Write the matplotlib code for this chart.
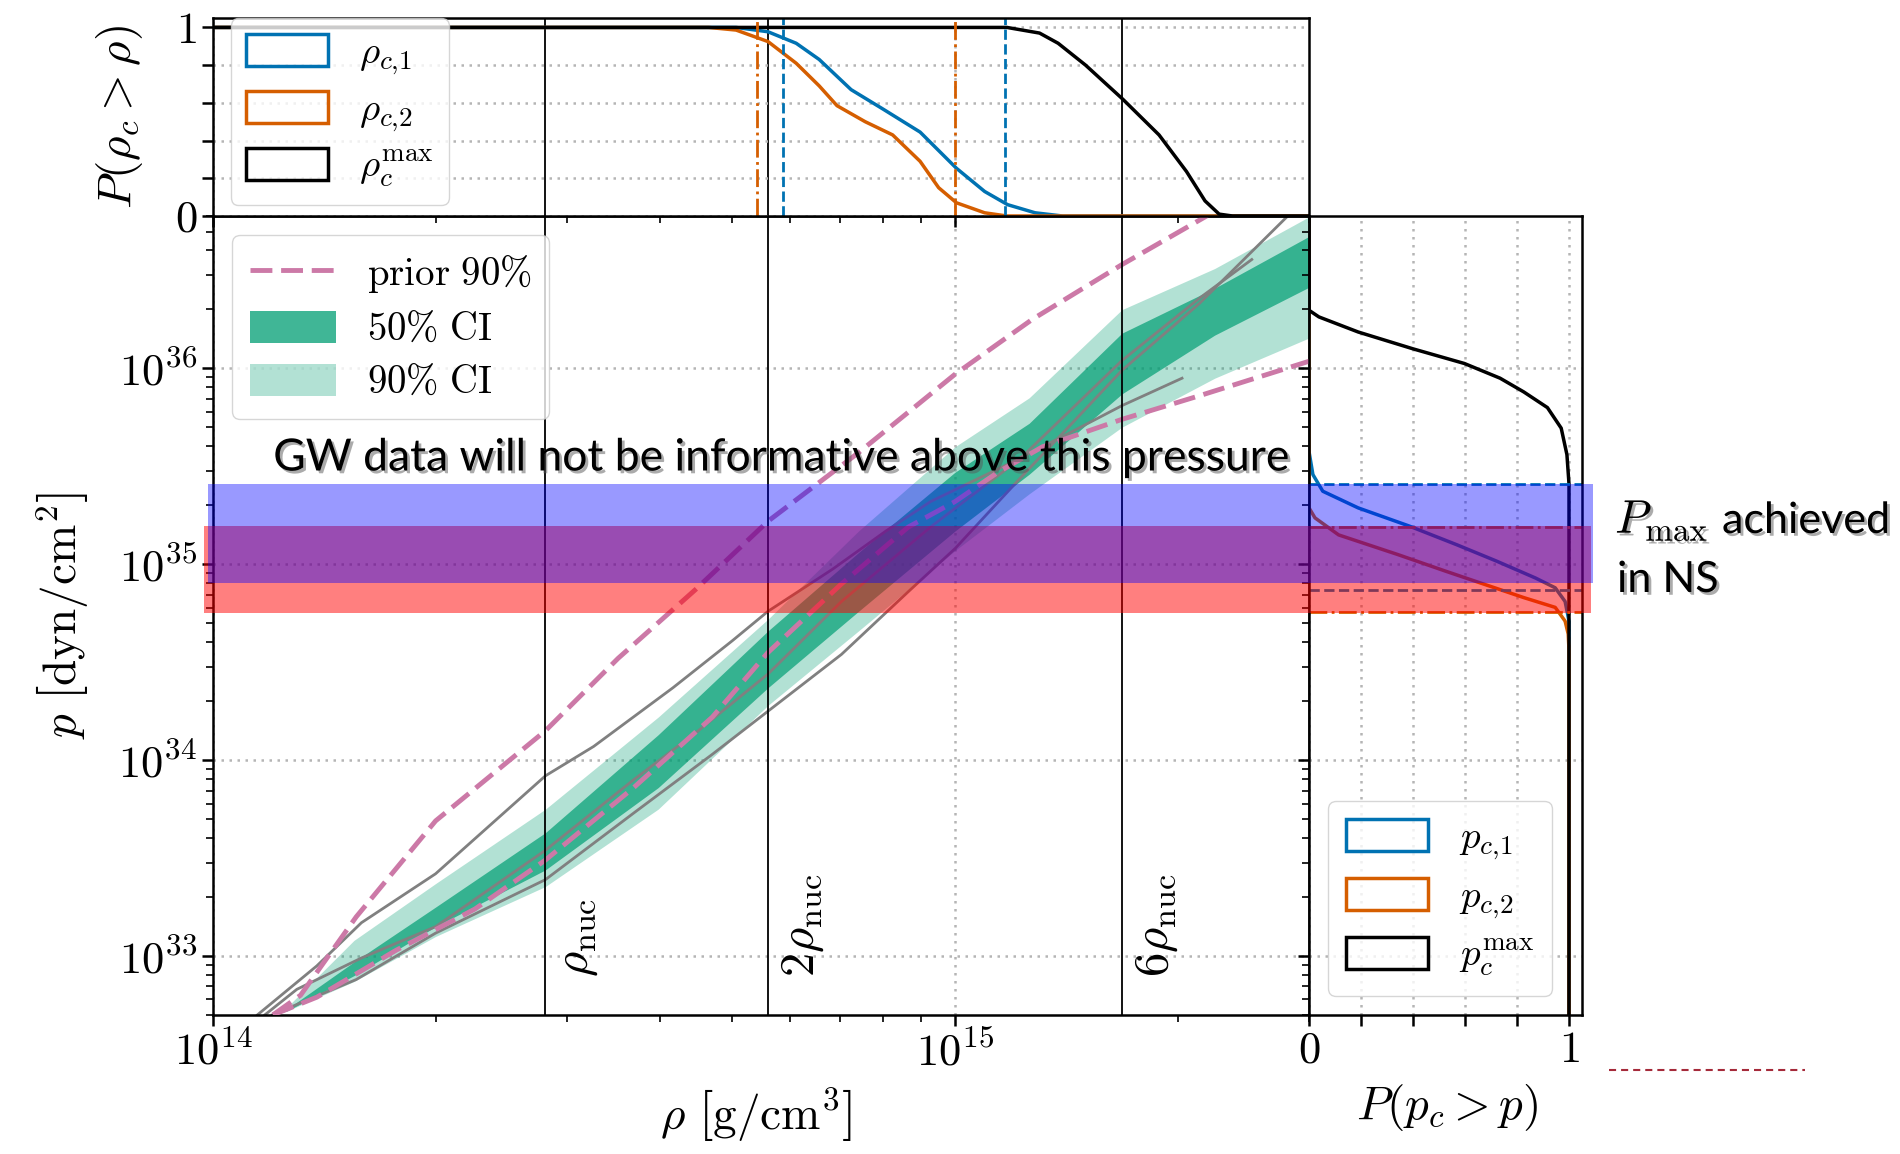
import numpy as np
import matplotlib
matplotlib.use("Agg")
import matplotlib.pyplot as plt
from matplotlib.patches import Patch, Rectangle
from matplotlib.lines import Line2D
from matplotlib import transforms
import matplotlib.patheffects as pe

plt.rcParams['font.family'] = 'serif'
plt.rcParams['font.serif'] = ['cmr10']
plt.rcParams['mathtext.fontset'] = 'cm'
plt.rcParams['axes.formatter.use_mathtext'] = True
plt.rcParams['axes.unicode_minus'] = False

BLUE = '#0072B2'
ORANGE = '#D55E00'
GREEN = '#009E73'
PINK = '#CC79A7'

# ---- data (log10 values) ----
rho_nuc = 2.8e14
ref_lines = [rho_nuc, 2 * rho_nuc, 6 * rho_nuc]
ref_labels = [r'$\rho_{\rm nuc}$', r'$2\rho_{\rm nuc}$', r'$6\rho_{\rm nuc}$']

# posterior credible bands, log10(rho) vs log10(p)
band_logrho = [14.08, 14.10, 14.19, 14.30, 14.448, 14.60, 14.748, 14.87, 15.0, 15.1, 15.225, 15.35, 15.48]
ci90_hi = [32.70, 32.74, 33.08, 33.37, 33.75, 34.22, 34.72, 35.17, 35.60, 35.85, 36.30, 36.51, 36.78]
ci50_hi = [32.70, 32.73, 32.97, 33.25, 33.63, 34.13, 34.66, 35.06, 35.47, 35.72, 36.18, 36.41, 36.68]
ci50_lo = [32.70, 32.72, 32.90, 33.15, 33.44, 33.86, 34.37, 34.76, 35.17, 35.46, 35.87, 36.17, 36.42]
ci90_lo = [32.70, 32.72, 32.87, 33.10, 33.355, 33.75, 34.28, 34.66, 35.07, 35.36, 35.70, 35.95, 36.16]

# prior 90% bounds
prior_hi_x = [14.081, 14.118, 14.193, 14.30, 14.448, 14.546, 14.65, 14.748, 14.87, 15.0, 15.104, 15.225, 15.34]
prior_hi_y = [32.70, 32.80, 33.20, 33.69, 34.15, 34.52, 34.87, 35.22, 35.57, 35.97, 36.25, 36.53, 36.78]
prior_lo_x = [14.081, 14.14, 14.247, 14.353, 14.448, 14.567, 14.673, 14.748, 14.847, 14.937, 15.0, 15.058,
              15.118, 15.225, 15.329, 15.48]
prior_lo_y = [32.70, 32.79, 33.03, 33.24, 33.49, 33.86, 34.22, 34.55, 34.90, 35.19, 35.32, 35.47,
              35.60, 35.74, 35.86, 36.04]

# individual EOS draws (gray)
eos_a_x = [14.06, 14.14, 14.20, 14.30, 14.448, 14.513, 14.62, 14.70, 14.748, 14.835, 14.907, 14.967,
           15.06, 15.149, 15.225, 15.306]
eos_a_y = [32.70, 32.95, 33.17, 33.42, 33.92, 34.07, 34.37, 34.61, 34.76, 34.975, 35.17, 35.32,
           35.49, 35.66, 35.81, 35.95]
eos_b_x = [14.07, 14.113, 14.20, 14.30, 14.448, 14.567, 14.654, 14.748, 14.847, 14.967, 15.088, 15.225,
           15.33, 15.40]
eos_b_y = [32.70, 32.83, 32.99, 33.15, 33.54, 33.90, 34.15, 34.44, 34.81, 35.19, 35.54, 36.04,
           36.36, 36.556]
eos_c_x = [14.08, 14.193, 14.30, 14.448, 14.567, 14.673, 14.748, 14.847, 14.937, 15.0, 15.088, 15.225,
           15.329, 15.449]
eos_c_y = [32.70, 32.88, 33.117, 33.39, 33.73, 34.03, 34.25, 34.54, 34.86, 35.08, 35.44, 35.99,
           36.33, 36.78]

# central density survival functions P(rho_c > rho)
rc1_x = [14.0, 14.705, 14.748, 14.786, 14.817, 14.86, 14.903, 14.953, 15.002, 15.04, 15.071, 15.108, 15.145, 15.48]
rc1_P = [1.0, 1.0, 0.977, 0.916, 0.83, 0.67, 0.567, 0.445, 0.253, 0.13, 0.06, 0.017, 0.0, 0.0]
rc2_x = [14.0, 14.668, 14.705, 14.748, 14.786, 14.817, 14.841, 14.879, 14.916, 14.953, 14.978, 15.002,
         15.04, 15.07, 15.48]
rc2_P = [1.0, 1.0, 0.986, 0.925, 0.81, 0.69, 0.585, 0.50, 0.43, 0.29, 0.15, 0.07, 0.017, 0.0, 0.0]
rcmax_x = [14.0, 15.07, 15.114, 15.139, 15.176, 15.226, 15.275, 15.312, 15.337, 15.356, 15.374, 15.48]
rcmax_P = [1.0, 1.0, 0.97, 0.916, 0.80, 0.62, 0.43, 0.236, 0.08, 0.01, 0.0, 0.0]
rc1_bounds = [14.768, 15.068]
rc2_bounds = [14.733, 15.0]

# central pressure survival functions P(p_c > p)
pc1_P = [0, 0, 0.015, 0.053, 0.189, 0.386, 0.568, 0.72, 0.871, 0.947, 0.985, 1.0, 1.0]
pc1_y = [36.78, 35.576, 35.458, 35.373, 35.288, 35.195, 35.10, 35.017, 34.93, 34.88, 34.81, 34.71, 32.69]
pc2_P = [0, 0, 0.023, 0.114, 0.341, 0.523, 0.674, 0.826, 0.947, 0.985, 0.997, 1.0, 1.0]
pc2_y = [36.78, 35.288, 35.237, 35.15, 35.05, 34.966, 34.898, 34.83, 34.78, 34.71, 34.644, 34.56, 32.69]
pcmax_P = [0, 0, 0.038, 0.189, 0.40, 0.598, 0.735, 0.826, 0.917, 0.97, 0.992, 1.0, 1.0]
pcmax_y = [36.78, 36.297, 36.263, 36.186, 36.10, 36.025, 35.95, 35.88, 35.80, 35.695, 35.56, 35.41, 32.69]
pc1_bounds = [35.412, 34.868]
pc2_bounds = [35.19, 34.756]

# hand-drawn overlay bands (log10 p)
gw_band = [34.902, 35.409]
ns_band = [34.749, 35.198]


def L(v):
    return 10 ** np.asarray(v)


W, H = 1900, 1154
fig = plt.figure(figsize=(W / 100, H / 100), dpi=100)
x0, x1, xr = 213, 1309, 1582
y_top, y_mid, y_bot = 18, 216, 1015
ax = fig.add_axes([x0 / W, 1 - y_bot / H, (x1 - x0) / W, (y_bot - y_mid) / H])
axt = fig.add_axes([x0 / W, 1 - y_mid / H, (x1 - x0) / W, (y_mid - y_top) / H], sharex=ax)
axr = fig.add_axes([x1 / W, 1 - y_bot / H, (xr - x1) / W, (y_bot - y_mid) / H], sharey=ax)

FS = 32
LFS = 28
grid_kw = dict(color='#b5b5b5', ls=(0, (1, 2.2)), lw=1.8)
for a in (ax, axt, axr):
    for s in a.spines.values():
        s.set_linewidth(1.8)
    a.tick_params(which='major', direction='out', length=8, width=1.8, labelsize=FS)
    a.tick_params(which='minor', direction='out', length=5, width=1.2)

# ---- main panel ----
ax.set_xscale('log')
ax.set_yscale('log')
ax.set_xlim(1e14, 3e15)
ax.set_ylim(5e32, 6e36)
ax.grid(True, which='major', **grid_kw)

ax.fill_between(L(band_logrho), L(ci90_lo), L(ci90_hi), color=GREEN, alpha=0.3, lw=0, zorder=2)
ax.fill_between(L(band_logrho), L(ci50_lo), L(ci50_hi), color=GREEN, alpha=0.7, lw=0, zorder=2)
for xs, ys in [(eos_a_x, eos_a_y), (eos_b_x, eos_b_y), (eos_c_x, eos_c_y)]:
    ax.plot(L(xs), L(ys), color='0.5', lw=2, zorder=2.5)
dash = (0, (4.5, 1.8))
ax.plot(L(prior_hi_x), L(prior_hi_y), color=PINK, lw=3.5, ls=dash, zorder=3)
ax.plot(L(prior_lo_x), L(prior_lo_y), color=PINK, lw=3.5, ls=dash, zorder=3)

for xv, lab in zip(ref_lines, ref_labels):
    ax.axvline(xv, color='k', lw=1.3, zorder=3.5)
    axt.axvline(xv, color='k', lw=1.3, zorder=1)
    ax.text(xv * 1.035, 7.8e32, lab, rotation=90, ha='left', va='bottom', fontsize=FS + 3)

ax.set_xlabel(r'$\rho\ \left[\mathrm{g/cm^3}\right]$', fontsize=FS + 2)
ax.set_ylabel(r'$p\ \left[\mathrm{dyn/cm^2}\right]$', fontsize=FS + 2)
ax.xaxis.set_label_coords(0.496, -0.09)
ax.yaxis.set_label_coords(-0.111, 0.5)

h_main = [Line2D([], [], color=PINK, lw=3.5, ls=dash),
          Patch(facecolor=GREEN, alpha=0.75, lw=0),
          Patch(facecolor=GREEN, alpha=0.3, lw=0)]
ax.legend(h_main, [r'$\mathrm{prior\ 90\%}$', r'$50\%\ \mathrm{CI}$', r'$90\%\ \mathrm{CI}$'],
          loc='upper left', fontsize=LFS, handlelength=2.2, handleheight=0.9, labelspacing=0.4,
          borderpad=0.45)

# ---- top panel ----
axt.set_ylim(0, 1.05)
axt.plot(L(rc1_x), rc1_P, color=BLUE, lw=2.5)
axt.plot(L(rc2_x), rc2_P, color=ORANGE, lw=2.5)
axt.plot(L(rcmax_x), rcmax_P, color='k', lw=2.5)
for v in rc1_bounds:
    axt.axvline(10 ** v, color=BLUE, ls='--', lw=2)
for v in rc2_bounds:
    axt.axvline(10 ** v, color=ORANGE, ls='-.', lw=2)
axt.set_yticks([0, 0.2, 0.4, 0.6, 0.8, 1.0], [r'$0$', '', '', '', '', r'$1$'])
axt.tick_params(labelbottom=False)
axt.grid(True, which='major', **grid_kw)
axt.set_ylabel(r'$P(\rho_c > \rho)$', fontsize=FS + 2)
axt.yaxis.set_label_coords(-0.062, 0.5)
h_top = [Patch(facecolor='none', edgecolor=c, lw=2.5) for c in (BLUE, ORANGE, 'k')]
axt.legend(h_top, [r'$\rho_{c{,}1}$', r'$\rho_{c{,}2}$', r'$\rho_c^{\rm max}$'], loc='upper left',
           bbox_to_anchor=(0.016, 1.0), borderaxespad=0, fontsize=LFS, handlelength=2.1,
           handleheight=0.9, labelspacing=0.35, borderpad=0.4)

# ---- right panel ----
axr.set_xlim(0, 1.05)
axr.plot(pc1_P, L(pc1_y), color=BLUE, lw=2.5)
axr.plot(pc2_P, L(pc2_y), color=ORANGE, lw=2.5)
axr.plot(pcmax_P, L(pcmax_y), color='k', lw=2.5)
for v in pc1_bounds:
    axr.axhline(10 ** v, color=BLUE, ls='--', lw=2)
for v in pc2_bounds:
    axr.axhline(10 ** v, color=ORANGE, ls='-.', lw=2)
axr.set_xticks([0, 0.2, 0.4, 0.6, 0.8, 1.0], [r'$0$', '', '', '', '', r'$1$'])
axr.tick_params(labelleft=False)
axr.grid(True, which='major', **grid_kw)
axr.set_xlabel(r'$P(p_c > p)$', fontsize=FS + 2)
axr.xaxis.set_label_coords(0.505, -0.084)
h_right = [Patch(facecolor='none', edgecolor=c, lw=2.5) for c in (BLUE, ORANGE, 'k')]
axr.legend(h_right, [r'$p_{c{,}1}$', r'$p_{c{,}2}$', r'$p_c^{\rm max}$'], loc='lower left',
           fontsize=LFS, handlelength=2.1, handleheight=0.9, labelspacing=0.4, borderpad=0.45)

# ---- overlays added on top of the figure ----
blend = transforms.blended_transform_factory(fig.transFigure, ax.transData)
red = Rectangle((204 / W, 10 ** ns_band[0]), (1591 - 204) / W, 10 ** ns_band[1] - 10 ** ns_band[0],
                transform=blend, facecolor=(1, 0, 0), alpha=0.5, lw=0, zorder=5)
blue = Rectangle((208 / W, 10 ** gw_band[0]), (1593 - 208) / W, 10 ** gw_band[1] - 10 ** gw_band[0],
                 transform=blend, facecolor=(0, 0, 1), alpha=0.4, lw=0, zorder=6)
fig.add_artist(red)
fig.add_artist(blue)

shadow = [pe.withSimplePatchShadow(offset=(2, -2), shadow_rgbFace='0.35', alpha=0.5)]
fig.text(782 / W, 1 - 458 / H, 'GW data will not be informative above this pressure', ha='center',
         va='center', fontsize=32, family='Lato', path_effects=shadow, zorder=7)
fig.text(1615 / W, 1 - 533 / H, r'$P_{\mathrm{max}}$', ha='left', va='baseline', fontsize=34,
         path_effects=shadow, zorder=7)
fig.text(1722 / W, 1 - 533 / H, 'achieved', ha='left', va='baseline', fontsize=31,
         family='Lato', path_effects=shadow, zorder=7)
fig.text(1617 / W, 1 - 592 / H, 'in NS', ha='left', va='baseline', fontsize=31, family='Lato',
         path_effects=shadow, zorder=7)
fig.add_artist(Line2D([1609 / W, 1805 / W], [1 - 1070 / H] * 2, transform=fig.transFigure,
                      color='#A52A3A', lw=1.5, ls=(0, (3.4, 2.4)), zorder=7))

fig.savefig('out.png', dpi=100)
